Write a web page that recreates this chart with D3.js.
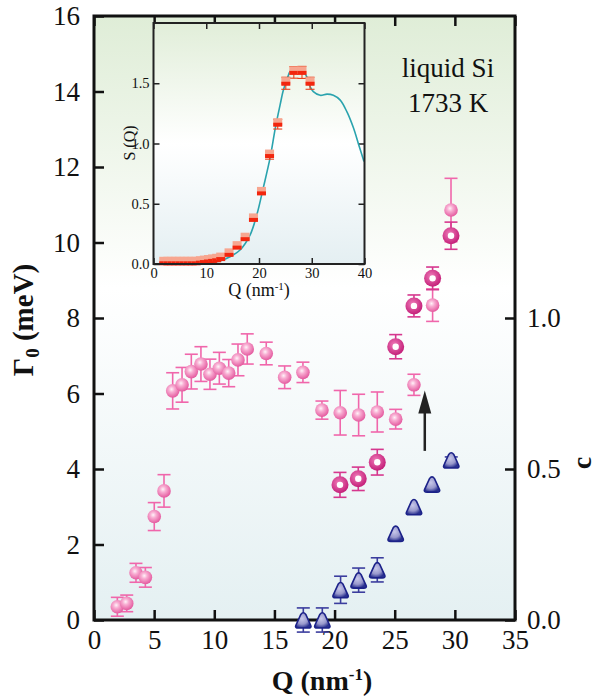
<!DOCTYPE html>
<html>
<head>
<meta charset="utf-8">
<script src="https://cdn.jsdelivr.net/npm/d3@7"></script>
<style>
  body { margin: 0; background: #fff; }
  text { font-family: "Liberation Serif", "Times New Roman", serif; fill: #111; }
</style>
</head>
<body>
<svg id="chart" width="597" height="699"></svg>
<script>
// Gamma_0 (meV), pink spheres
var qMain = [1.94, 2.72, 3.49, 4.27, 5.01, 5.82, 6.54, 7.32, 8.09, 8.89, 9.64, 10.42, 11.2,
             11.97, 12.74, 14.32, 15.85, 17.37, 18.95, 20.47, 22.0, 23.55, 25.08, 26.6, 28.15, 29.68];
var gMain = [0.35, 0.44, 1.25, 1.13, 2.74, 3.42, 6.07, 6.23, 6.58, 6.78, 6.51, 6.67, 6.54,
             6.89, 7.18, 7.06, 6.43, 6.56, 5.56, 5.49, 5.43, 5.51, 5.32, 6.23, 8.34, 10.86];
var gMainErr = [0.25, 0.22, 0.25, 0.26, 0.37, 0.43, 0.48, 0.46, 0.46, 0.46, 0.40, 0.42, 0.36,
                0.42, 0.40, 0.30, 0.30, 0.27, 0.24, 0.59, 0.55, 0.53, 0.26, 0.28, 0.43, 0.84];

// second Gamma, magenta rings
var qRing = [20.45, 21.97, 23.55, 25.08, 26.6, 28.15, 29.68];
var gRing = [3.58, 3.74, 4.18, 7.24, 8.32, 9.05, 10.18];
var gRingErr = [0.33, 0.31, 0.34, 0.32, 0.29, 0.30, 0.36];

// c (right axis), navy triangles
var qTri = [17.4, 18.98, 20.5, 22.0, 23.55, 25.08, 26.6, 28.1, 29.7];
var cTri = [0.0, 0.0, 0.10, 0.132, 0.166, 0.287, 0.375, 0.45, 0.53];
var cTriErr = [0.04, 0.04, 0.045, 0.04, 0.04, 0.0, 0.0, 0.0, 0.01];

// inset: measured S(Q)
var qS = qMain;
var sVals = [0.01, 0.01, 0.01, 0.01, 0.01, 0.01, 0.01, 0.01, 0.01, 0.015, 0.02, 0.025, 0.03,
             0.035, 0.045, 0.08, 0.14, 0.21, 0.37, 0.59, 0.90, 1.16, 1.50, 1.59, 1.59, 1.50];
var sErr = [0, 0, 0, 0, 0, 0, 0, 0, 0, 0, 0, 0, 0,
            0, 0, 0, 0, 0, 0, 0, 0.03, 0.04, 0.05, 0.048, 0.05, 0.05];

// inset: S(Q) curve
var curveQ = [0.9, 10.1, 12.6, 14.5, 16.4, 18.3, 19.6, 20.8, 22.1, 23.1, 24.0, 24.6, 25.3, 25.9,
              26.5, 27.5, 28.4, 29.1, 29.7, 30.3, 31.6, 32.9, 34.1, 35.4, 36.7, 37.9, 38.9, 39.9];
var curveS = [0.0, 0.006, 0.025, 0.06, 0.116, 0.24, 0.41, 0.63, 0.88, 1.13, 1.32, 1.44, 1.53, 1.60,
              1.62, 1.62, 1.60, 1.55, 1.47, 1.43, 1.40, 1.41, 1.40, 1.36, 1.26, 1.13, 0.99, 0.85];

var xTicks = [0, 5, 10, 15, 20, 25, 30, 35];
var yTicks = [0, 2, 4, 6, 8, 10, 12, 14, 16];
var cTicks = [0, 0.5, 1.0];
var xiTicks = [0, 10, 20, 30, 40];
var yiTicks = [0, 0.5, 1.0, 1.5];

var svg = d3.select("#chart");
var defs = svg.append("defs");

// main scales
var x = d3.scaleLinear().domain([0, 35]).range([94, 515]);
var y = d3.scaleLinear().domain([0, 16]).range([620, 16]);
var yc = d3.scaleLinear().domain([0, 2]).range([620, 16]);

// inset scales
var xi = d3.scaleLinear().domain([0, 40]).range([153.5, 364.5]);
var yi = d3.scaleLinear().domain([0, 2]).range([264, 23]);

function vgrad(id, stops) {
  var g = defs.append("linearGradient").attr("id", id)
    .attr("x1", 0).attr("y1", 0).attr("x2", 0).attr("y2", 1);
  stops.forEach(function(s) {
    g.append("stop").attr("offset", s[0]).attr("stop-color", s[1]);
  });
}
function rgrad(id, stops) {
  var g = defs.append("radialGradient").attr("id", id)
    .attr("cx", "42%").attr("cy", "38%").attr("r", "62%");
  stops.forEach(function(s) {
    g.append("stop").attr("offset", s[0]).attr("stop-color", s[1]);
  });
}
vgrad("bgMain", [[0, "#dfedd7"], [0.45, "#ffffff"], [1, "#e4f0f2"]]);
vgrad("bgInset", [[0, "#e1eed9"], [0.5, "#ffffff"], [1, "#e4eff2"]]);
rgrad("sph", [[0, "#fff2f8"], [0.35, "#f8add2"], [1, "#e45a9f"]]);
rgrad("ring", [[0, "#ef7cb9"], [1, "#c41f79"]]);
rgrad("tri", [[0, "#c8c8ea"], [0.6, "#9898cc"], [1, "#2a3190"]]);

// plot background
svg.append("rect").attr("x", x(0)).attr("y", y(16))
  .attr("width", x(35) - x(0)).attr("height", y(0) - y(16))
  .attr("fill", "url(#bgMain)");

// axes, ticks pointing inward
function styleAxis(g, size) {
  g.select(".domain").remove();
  g.selectAll(".tick line").attr("stroke", "#111").attr("stroke-width", 2.5);
  g.selectAll("text").attr("font-size", size).attr("fill", "#111")
    .attr("font-family", "Liberation Serif, Times New Roman, serif");
}
svg.append("g").attr("transform", "translate(0," + y(0) + ")")
  .call(d3.axisBottom(x).tickValues(xTicks).tickSize(-10).tickPadding(10))
  .call(styleAxis, 27);
svg.append("g").attr("transform", "translate(0," + y(16) + ")")
  .call(d3.axisTop(x).tickValues(xTicks).tickSize(-10).tickFormat(""))
  .call(styleAxis, 27);
svg.append("g").attr("transform", "translate(" + x(0) + ",0)")
  .call(d3.axisLeft(y).tickValues(yTicks).tickSize(-10).tickPadding(14))
  .call(styleAxis, 27);
svg.append("g").attr("transform", "translate(" + x(35) + ",0)")
  .call(d3.axisRight(yc).tickValues(cTicks).tickSize(-10).tickPadding(12).tickFormat(d3.format(".1f")))
  .call(styleAxis, 27);

svg.append("rect").attr("x", x(0)).attr("y", y(16))
  .attr("width", x(35) - x(0)).attr("height", y(0) - y(16))
  .attr("fill", "none").attr("stroke", "#111").attr("stroke-width", 3);

// error bars with caps
function errBars(qs, vs, es, sx, sy, color, cap, width) {
  var g = svg.append("g").attr("stroke", color).attr("stroke-width", width);
  qs.forEach(function(q, i) {
    if (!es[i]) return;
    var px = sx(q), top = sy(vs[i] + es[i]), bot = sy(vs[i] - es[i]);
    g.append("line").attr("x1", px).attr("x2", px).attr("y1", top).attr("y2", bot);
    g.append("line").attr("x1", px - cap).attr("x2", px + cap).attr("y1", top).attr("y2", top);
    g.append("line").attr("x1", px - cap).attr("x2", px + cap).attr("y1", bot).attr("y2", bot);
  });
}

// pink spheres
errBars(qMain, gMain, gMainErr, x, y, "#f066ab", 6.5, 1.6);
svg.append("g").selectAll("circle").data(qMain).join("circle")
  .attr("cx", function(d) { return x(d); })
  .attr("cy", function(d, i) { return y(gMain[i]); })
  .attr("r", 6.8).attr("fill", "url(#sph)");

// magenta rings
errBars(qRing, gRing, gRingErr, x, y, "#d6378e", 6.5, 1.6);
var rings = svg.append("g").selectAll("g").data(qRing).join("g")
  .attr("transform", function(d, i) { return "translate(" + x(d) + "," + y(gRing[i]) + ")"; });
rings.append("circle").attr("r", 8.5).attr("fill", "url(#ring)");
rings.append("circle").attr("r", 3.2).attr("fill", "#fff");

// navy triangles (c)
errBars(qTri, cTri, cTriErr, x, yc, "#3b3d9e", 6.5, 1.6);
svg.append("g").selectAll("path").data(qTri).join("path")
  .attr("transform", function(d, i) { return "translate(" + x(d) + "," + yc(cTri[i]) + ")"; })
  .attr("d", "M-7.5,5.5 Q-8.5,8 -5,8 L5,8 Q8.5,8 7.5,5.5 L2.5,-5.5 Q0,-9 -2.5,-5.5 Z")
  .attr("fill", "url(#tri)").attr("stroke", "#1c2289").attr("stroke-width", 1.6);

// arrow
svg.append("line").attr("x1", x(27.5)).attr("x2", x(27.5))
  .attr("y1", y(4.48)).attr("y2", y(5.6))
  .attr("stroke", "#222").attr("stroke-width", 2.5);
svg.append("path")
  .attr("d", "M" + (x(27.5) - 6.5) + "," + (y(6.08) + 23) + " L" + x(27.5) + "," + y(6.08) +
    " L" + (x(27.5) + 6.5) + "," + (y(6.08) + 23) + " Z")
  .attr("fill", "#222");

// ---- inset ----
svg.append("rect").attr("x", xi(0)).attr("y", yi(2))
  .attr("width", xi(40) - xi(0)).attr("height", yi(0) - yi(2))
  .attr("fill", "url(#bgInset)");

function styleInset(g) {
  g.select(".domain").remove();
  g.selectAll(".tick line").attr("stroke", "#222").attr("stroke-width", 1.5);
  g.selectAll("text").attr("font-size", 14.5).attr("fill", "#111")
    .attr("font-family", "Liberation Serif, Times New Roman, serif");
}
svg.append("g").attr("transform", "translate(0," + yi(0) + ")")
  .call(d3.axisBottom(xi).tickValues(xiTicks).tickSize(-6).tickPadding(4))
  .call(styleInset);
svg.append("g").attr("transform", "translate(0," + yi(2) + ")")
  .call(d3.axisTop(xi).tickValues(xiTicks).tickSize(-6).tickFormat(""))
  .call(styleInset);
svg.append("g").attr("transform", "translate(" + xi(0) + ",0)")
  .call(d3.axisLeft(yi).tickValues(yiTicks).tickSize(-6).tickPadding(4).tickFormat(d3.format(".1f")))
  .call(styleInset);
svg.append("g").attr("transform", "translate(" + xi(40) + ",0)")
  .call(d3.axisRight(yi).tickValues(yiTicks).tickSize(-6).tickFormat(""))
  .call(styleInset);

// S(Q) curve
var line = d3.line()
  .x(function(d, i) { return xi(curveQ[i]); })
  .y(function(d) { return yi(d); })
  .curve(d3.curveCatmullRom);
svg.append("path").datum(curveS).attr("d", line)
  .attr("fill", "none").attr("stroke", "#2aa3ae").attr("stroke-width", 1.6);

// measured S(Q): salmon block with red base
errBars(qS, sVals, sErr, xi, yi, "#e8401c", 4.5, 1.1);
var sq = svg.append("g").selectAll("g").data(qS).join("g")
  .attr("transform", function(d, i) { return "translate(" + xi(d) + "," + yi(sVals[i]) + ")"; });
sq.append("rect").attr("x", -4.5).attr("y", -6).attr("width", 9).attr("height", 7.5).attr("fill", "#f7a690");
sq.append("rect").attr("x", -4.5).attr("y", -1.5).attr("width", 9).attr("height", 4).attr("fill", "#f2260e");

svg.append("rect").attr("x", xi(0)).attr("y", yi(2))
  .attr("width", xi(40) - xi(0)).attr("height", yi(0) - yi(2))
  .attr("fill", "none").attr("stroke", "#222").attr("stroke-width", 2);

// inset labels
var iq = svg.append("text").attr("x", (xi(0) + xi(40)) / 2).attr("y", 296)
  .attr("text-anchor", "middle").attr("font-size", 18);
iq.append("tspan").text("Q (nm");
iq.append("tspan").attr("font-size", 11).attr("dy", -6).text("-1");
iq.append("tspan").attr("dy", 6).text(")");

svg.append("text").attr("transform", "translate(135,143) rotate(-90)")
  .attr("text-anchor", "middle").attr("font-size", 16).text("S (Q)");

// ---- main labels ----
svg.append("text").attr("x", 448).attr("y", 77).attr("text-anchor", "middle")
  .attr("font-size", 27).text("liquid Si");
svg.append("text").attr("x", 448).attr("y", 112).attr("text-anchor", "middle")
  .attr("font-size", 27).text("1733 K");

var xl = svg.append("text").attr("x", 322).attr("y", 690)
  .attr("text-anchor", "middle").attr("font-size", 28).attr("font-weight", "bold");
xl.append("tspan").text("Q (nm");
xl.append("tspan").attr("font-size", 17).attr("dy", -10).text("-1");
xl.append("tspan").attr("dy", 10).text(")");

var yl = svg.append("text").attr("transform", "translate(33,320) rotate(-90)")
  .attr("text-anchor", "middle").attr("font-size", 29).attr("font-weight", "bold");
yl.append("tspan").text("\u0393");
yl.append("tspan").attr("font-size", 19).attr("dy", 6).text("0");
yl.append("tspan").attr("dy", -6).text(" (meV)");

svg.append("text").attr("transform", "translate(591,463) rotate(-90)")
  .attr("text-anchor", "middle").attr("font-size", 28).attr("font-weight", "bold").text("c");
</script>
</body>
</html>
